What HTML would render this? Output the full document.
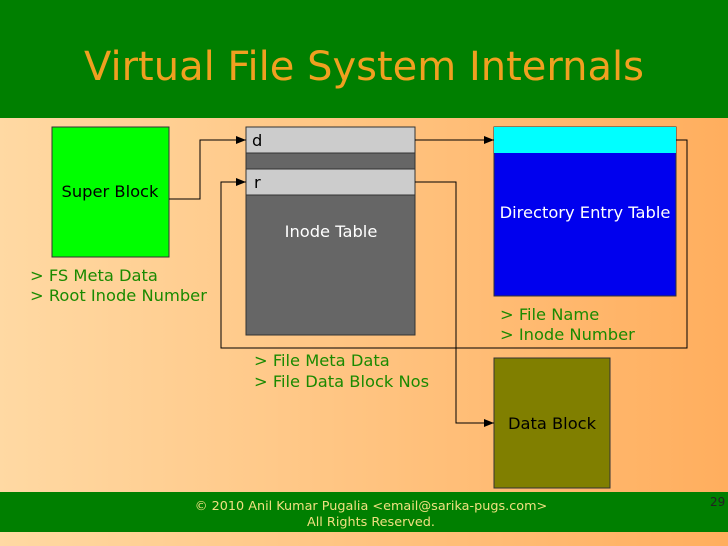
<html><body style="margin:0;width:728px;height:546px;overflow:hidden;font-family:'DejaVu Sans','Liberation Sans',sans-serif">
<svg width="728" height="546" xmlns="http://www.w3.org/2000/svg">
<defs><linearGradient id="g" x1="0" x2="1"><stop offset="0" stop-color="#ffd9a3"/><stop offset="1" stop-color="#ffae5e"/></linearGradient>
<marker id="a" markerWidth="10" markerHeight="8" refX="10" refY="4" orient="auto" markerUnits="userSpaceOnUse"><path d="M0,0L10,4L0,8z" fill="#000"/></marker></defs>
<rect width="728" height="546" fill="url(#g)"/>
<rect width="728" height="118" fill="#007f00"/>
<text x="364" y="80" text-anchor="middle" font-size="40" fill="#f0a020">Virtual File System Internals</text>
<rect x="52" y="127" width="117" height="130" fill="#00ff00" stroke="#333"/>
<text x="110" y="197" text-anchor="middle" font-size="16.3">Super Block</text>
<text x="30" y="281" font-size="16.3" fill="#1a8a00">&gt; FS Meta Data</text>
<text x="30" y="301" font-size="16.3" fill="#1a8a00">&gt; Root Inode Number</text>
<rect x="246" y="127" width="169" height="208" fill="#666" stroke="#333"/>
<rect x="246" y="127" width="169" height="26" fill="#ccc" stroke="#333"/>
<rect x="246" y="169" width="169" height="26" fill="#ccc" stroke="#333"/>
<text x="252" y="146" font-size="16.3">d</text>
<text x="254" y="188" font-size="16.3">r</text>
<text x="331" y="237" text-anchor="middle" font-size="16.3" fill="#fff">Inode Table</text>
<text x="254" y="366" font-size="16.3" fill="#1a8a00">&gt; File Meta Data</text>
<text x="254" y="387" font-size="16.3" fill="#1a8a00">&gt; File Data Block Nos</text>
<rect x="494" y="127" width="182" height="169" fill="#0000ee" stroke="#333"/>
<rect x="494" y="127" width="182" height="26" fill="#00ffff"/>
<text x="585" y="218" text-anchor="middle" font-size="16.3" fill="#fff">Directory Entry Table</text>
<text x="500" y="320" font-size="16.3" fill="#1a8a00">&gt; File Name</text>
<text x="500" y="340" font-size="16.3" fill="#1a8a00">&gt; Inode Number</text>
<rect x="494" y="358" width="116" height="130" fill="#807f00" stroke="#333"/>
<text x="552" y="429" text-anchor="middle" font-size="16.3">Data Block</text>
<g fill="none" stroke="#000" stroke-width="1">
<polyline points="169,199 200,199 200,140 246,140" marker-end="url(#a)"/>
<polyline points="415,140 494,140" marker-end="url(#a)"/>
<polyline points="415,182 456,182 456,423 494,423" marker-end="url(#a)"/>
<polyline points="676,140 687,140 687,348 221,348 221,182 246,182" marker-end="url(#a)"/>
</g>
<rect x="0" y="492" width="728" height="40" fill="#007f00"/>
<text x="371" y="510" text-anchor="middle" font-size="12.8" fill="#f0e080">© 2010 Anil Kumar Pugalia &lt;email@sarika-pugs.com&gt;</text>
<text x="371" y="526" text-anchor="middle" font-size="12.8" fill="#f0e080">All Rights Reserved.</text>
<text x="710" y="506" font-size="12" fill="#222">29</text>
</svg></body></html>
